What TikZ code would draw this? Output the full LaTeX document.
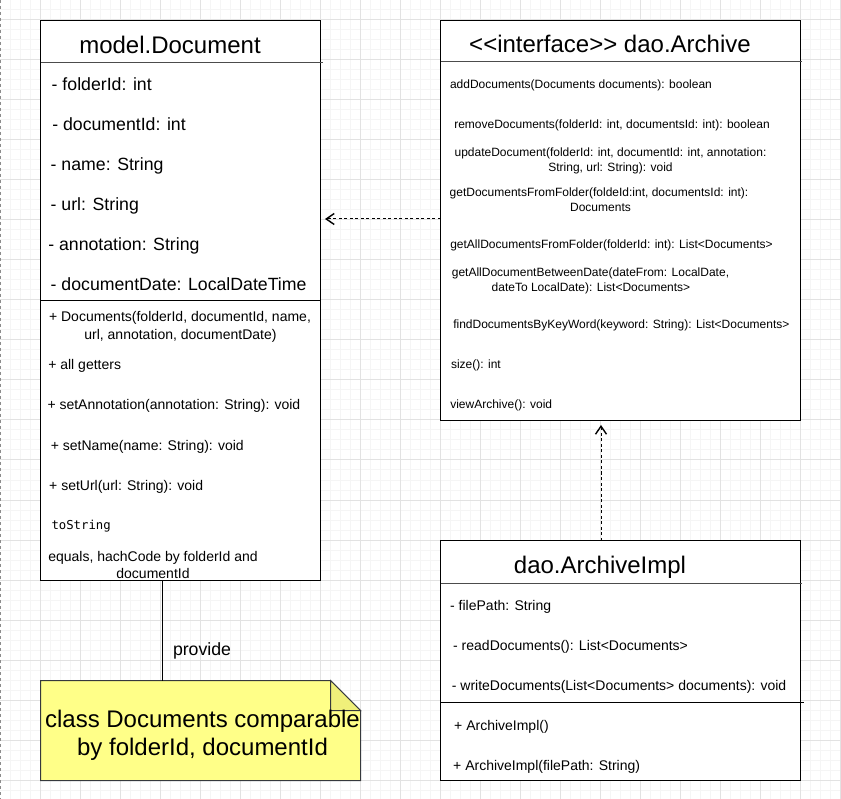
\documentclass[tikz,border=0pt]{standalone}
\usepackage{fontspec}
\setmainfont{Liberation Sans}
\newfontfamily\monofont{DejaVu Sans Mono}
\usetikzlibrary{arrows.meta}
\definecolor{gridminor}{RGB}{245,245,245}
\definecolor{gridmajor}{RGB}{226,226,226}
\definecolor{notefill}{RGB}{255,255,136}
\definecolor{notefold}{RGB}{240,240,122}
\definecolor{notestroke}{RGB}{54,57,61}
\tikzset{
  umlbox/.style={draw=black, fill=white, line width=1pt, rectangle, inner sep=0pt, outer sep=0pt, anchor=north west},
  titlesep/.style={draw=black!70, line width=1.2pt},
  methsep/.style={draw=black, line width=1pt},
  tl/.style={inner sep=0pt, outer sep=0pt, anchor=base west},
  tc/.style={inner sep=0pt, outer sep=0pt, anchor=base},
  ttl/.style={font=\fontsize{24}{28}\selectfont},
  attr/.style={font=\fontsize{17.7}{21}\selectfont},
  meth/.style={font=\fontsize{14}{17}\selectfont},
  ameth/.style={font=\fontsize{12}{14}\selectfont},
  mono/.style={font=\monofont\fontsize{12.3}{15}\selectfont},
  dep/.style={line width=1pt, dash pattern=on 3pt off 2.5pt, -{Straight Barb[length=8pt,width=11pt,line width=1.4pt]}, shorten >=4.5pt}
}
\begin{document}
\begin{tikzpicture}[x=1pt,y=-1pt]
\useasboundingbox (0,0) rectangle (841,799);
\fill[white] (0,0) rectangle (841,799);
% grid
\foreach \gx in {10,20,...,840} \draw[gridminor, line width=1pt] (\gx,0) -- (\gx,799);
\foreach \gy in {0,10,...,790} \draw[gridminor, line width=1pt] (0,\gy) -- (841,\gy);
\foreach \gx in {40,80,...,840} \draw[gridmajor, line width=1pt] (\gx,0) -- (\gx,799);
\foreach \gy in {20,60,...,780} \draw[gridmajor, line width=1pt] (0,\gy) -- (841,\gy);
\draw[black!45, line width=1pt, dash pattern=on 3pt off 3pt] (0.5,0) -- (0.5,799);

% ---------- model.Document ----------
\node[umlbox, minimum width=280pt, minimum height=560pt] (doc) at (40.5,20.5) {};
\draw[titlesep] (40.5,62.5) -- (323,62.5);
\draw[methsep] (40.5,300.5) -- (320.5,300.5);
\node[tc, ttl] (docT) at (170,53.3) {model.Document};
\node[tl, attr] (da1) at (51.7,91) {- folderId: int};
\node[tl, attr] (da2) at (52.3,131) {- documentId: int};
\node[tl, attr] (da3) at (50.7,171) {- name: String};
\node[tl, attr] (da4) at (50.7,211) {- url: String};
\node[tl, attr] (da5) at (48.3,251) {- annotation: String};
\node[tl, attr] (da6) at (50.7,291) {- documentDate: LocalDateTime};
\node[tc, meth] (dm1a) at (180,321.7) {+ Documents(folderId, documentId, name,};
\node[tc, meth] (dm1b) at (180.5,339.3) {url, annotation, documentDate)};
\node[tl, meth] (dm2) at (48.3,369.3) {+ all getters};
\node[tl, meth] (dm3) at (47.5,410) {+ setAnnotation(annotation: String): void};
\node[tl, meth] (dm4) at (50.9,450) {+ setName(name: String): void};
\node[tl, meth] (dm5) at (49.2,490) {+ setUrl(url: String): void};
\node[tl, mono] (dm6) at (51.5,529.3) {toString};
\node[tc, meth] (dm7a) at (153,561.7) {equals, hachCode by folderId and};
\node[tc, meth] (dm7b) at (153,578.3) {documentId};

% ---------- dao.Archive ----------
\node[umlbox, minimum width=360pt, minimum height=400pt] (arch) at (440.5,20.5) {};
\draw[titlesep] (440.5,61.7) -- (801.5,61.7);
\node[tc, ttl] (archT) at (610,52.3) {<\kern0pt<interface>\kern0pt> dao.Archive};
\node[tl, ameth] (am1) at (450,88.3) {addDocuments(Documents documents): boolean};
\node[tl, ameth] (am2) at (454.3,129) {removeDocuments(folderId: int, documentsId: int): boolean};
\node[tc, ameth] (am3a) at (610.5,156.7) {updateDocument(folderId: int, documentId: int, annotation:};
\node[tc, ameth] (am3b) at (610.5,171.7) {String, url: String): void};
\node[tc, ameth] (am4a) at (599,196.7) {getDocumentsFromFolder(foldeId:int, documentsId: int):};
\node[tc, ameth] (am4b) at (600.5,211.7) {Documents};
\node[tl, ameth] (am5) at (450.3,248.3) {getAllDocumentsFromFolder(folderId: int): List<Documents>};
\node[tc, ameth] (am6a) at (590.5,276.7) {getAllDocumentBetweenDate(dateFrom: LocalDate,};
\node[tc, ameth] (am6b) at (591,291.7) {dateTo LocalDate): List<Documents>};
\node[tl, ameth] (am7) at (453.3,329) {findDocumentsByKeyWord(keyword: String): List<Documents>};
\node[tl, ameth] (am8) at (451,369) {size(): int};
\node[tl, ameth] (am9) at (450.3,408.3) {viewArchive(): void};

% ---------- dao.ArchiveImpl ----------
\node[umlbox, minimum width=360pt, minimum height=240pt] (impl) at (440.5,540.5) {};
\draw[titlesep] (440.5,583.3) -- (802,583.3);
\draw[methsep] (440.5,702.3) -- (804,702.3);
\node[tc, ttl] (implT) at (600,573.3) {dao.ArchiveImpl};
\node[tl, meth] (if1) at (450.2,610) {- filePath: String};
\node[tl, meth] (if2) at (453.2,650) {- readDocuments(): List<Documents>};
\node[tl, meth] (if3) at (451.9,690) {- writeDocuments(List<Documents> documents): void};
\node[tl, meth] (ic1) at (454.2,730) {+ ArchiveImpl()};
\node[tl, meth] (ic2) at (453.2,770) {+ ArchiveImpl(filePath: String)};

% ---------- note ----------
\node[inner sep=0pt, outer sep=0pt, anchor=north west, minimum width=320pt, minimum height=100pt] (note) at (40.5,680.5) {};
\filldraw[fill=notefill, draw=notestroke, line width=1pt] (40.5,680.5) -- (330.5,680.5) -- (360.5,710.5) -- (360.5,780.5) -- (40.5,780.5) -- cycle;
\filldraw[fill=notefold, draw=notestroke, line width=1pt] (330.5,680.5) -- (330.5,710.5) -- (360.5,710.5) -- cycle;
\node[tc, ttl] (nt1) at (202.5,727.7) {class Documents comparable};
\node[tc, ttl] (nt2) at (202.5,755.7) {by folderId, documentId};

% ---------- connectors ----------
\coordinate (pv) at (162.7,0);
\draw[line width=1pt] (doc.south -| pv) -- (note.north -| pv);
\node[tl, attr] (provide) at (173,655) {provide};

\coordinate (ha) at (0,219);
\draw[dep] (arch.west |- ha) -- (doc.east |- ha);

\coordinate (va) at (601,0);
\draw[dep] (impl.north -| va) -- (arch.south -| va);
\end{tikzpicture}
\end{document}
